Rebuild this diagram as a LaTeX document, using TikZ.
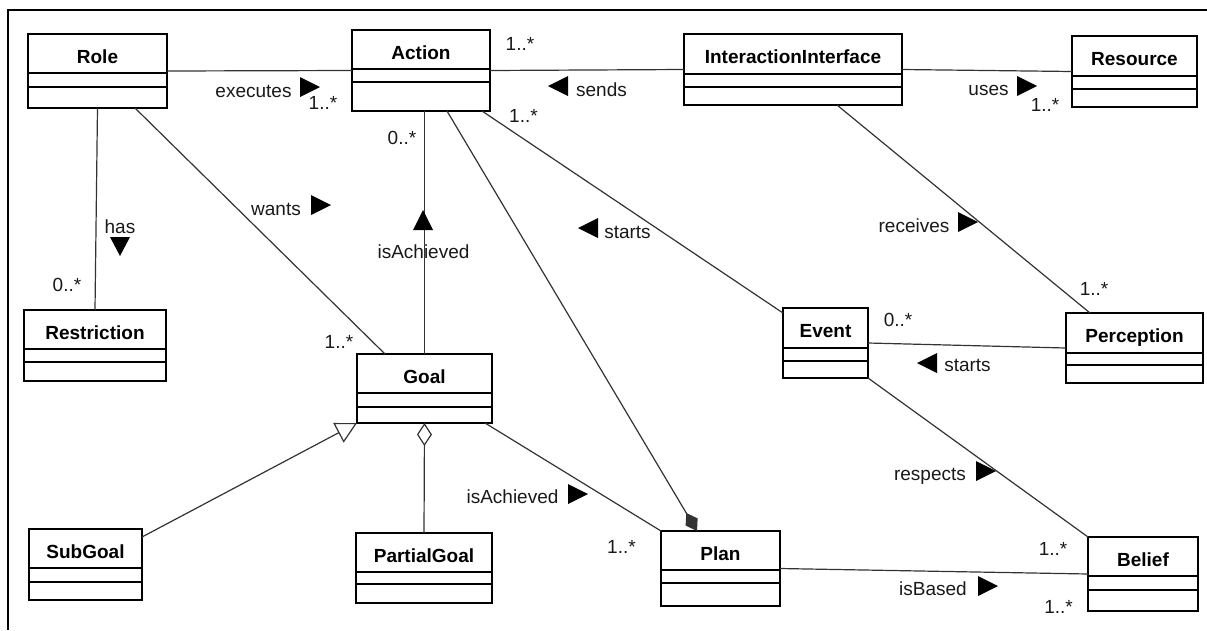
\documentclass[tikz,border=0pt]{standalone}
\usepackage{fontspec}
\setmainfont{Liberation Sans}
\usetikzlibrary{arrows.meta}
\tikzset{
 clsbox/.style={draw=black, line width=2.7pt, rectangle, inner sep=0pt, outer sep=0pt, fill=white},
 clsname/.style={font=\fontsize{19}{22}\selectfont\bfseries, anchor=base, inner sep=0pt},
 seprule/.style={line width=1.3pt},
 assoc/.style={line width=1.2pt, draw=black!80},
 lbl/.style={font=\fontsize{19}{22}\selectfont, anchor=base, inner sep=0pt, text=black!90},
 dirtri/.style={fill=black},
 frameline/.style={line width=2pt},
}
\newcommand{\umlclass}[8]{%
  \node[clsbox, minimum width=#5pt, minimum height=#6pt, anchor=north west] (#1) at (#3,#4) {};
  \node[clsname] (#1-name) at ([yshift=-29pt]#1.north) {#2};
  \draw[seprule] ([yshift=-#7pt]#1.north west) -- ([yshift=-#7pt]#1.north east);
  \draw[seprule] ([yshift=-#8pt]#1.north west) -- ([yshift=-#8pt]#1.north east);
}
\begin{document}
\begin{tikzpicture}[x=1pt,y=-1pt]
\useasboundingbox (0,0) rectangle (1207,630);
\fill[white] (0,0) rectangle (1207,630);
% frame
\draw[frameline] (8,630) -- (8,10) -- (1207,10);

% classes: name, text, x, y, w, h, sep1, sep2
\umlclass{Role}{Role}{28}{34}{139}{74}{39}{53}
\umlclass{Action}{Action}{352}{30}{138}{81}{39}{52}
\umlclass{II}{InteractionInterface}{684}{34}{218}{71}{40}{53}
\umlclass{Resource}{Resource}{1072}{36}{125}{71}{40}{53}
\umlclass{Restriction}{Restriction}{24}{310}{142}{71}{39}{52}
\umlclass{Goal}{Goal}{357}{354}{135}{69}{39}{53}
\umlclass{Event}{Event}{783}{308}{85}{70}{40}{53}
\umlclass{Perception}{Perception}{1066}{313}{137}{70}{40}{52}
\umlclass{SubGoal}{SubGoal}{29}{529}{113}{71}{39}{53}
\umlclass{PartialGoal}{PartialGoal}{356}{533}{136}{70}{39}{51}
\umlclass{Plan}{Plan}{661}{531}{119}{75}{39}{52}
\umlclass{Belief}{Belief}{1088}{537}{110}{74}{39}{53}

% connectors
\draw[assoc] (Role.east) -- (Action.west);
\draw[assoc] (Action.east) -- (II.west);
\draw[assoc] (II.east) -- (Resource.west);
\draw[assoc] (Role.south) -- (Restriction.north);
\draw[assoc] ([xshift=37.5pt]Role.south) -- ([xshift=-39.5pt]Goal.north);
\draw[assoc] (Goal.north) -- (Goal.north |- Action.south);
\draw[assoc, -{Diamond[length=21pt,width=14pt]}] ([xshift=26pt]Action.south) -- ([xshift=-23.5pt]Plan.north);
\draw[assoc] ([xshift=-8pt]Action.south east) -- ([yshift=-5pt]Event.north west);
\draw[assoc] ([xshift=44pt]II.south) -- ([xshift=-44.5pt]Perception.north);
\draw[assoc] (Event.east) -- (Perception.west);
\draw[assoc] (Event.south east) -- (Belief.north west);
\draw[assoc] (Plan.east) -- (Belief.west);
\draw[assoc] ([xshift=-7pt]Goal.south east) -- (Plan.north west);
\draw[assoc, -{Triangle[open,length=21pt,width=22pt,fill=white]}] ([yshift=-8pt]SubGoal.north east) -- (Goal.south west);
\draw[assoc, -{Diamond[open,length=23pt,width=15pt,fill=white]}] (PartialGoal.north) -- (Goal.south);

% labels
\node[lbl] (l-exec) at (253.5,97) {executes};
\fill[dirtri] (300,77) -- (320,87) -- (300,97) -- cycle;
\node[lbl] (m-exec) at (323,109) {1..*};

\node[lbl] (m-send) at (520,50) {1..*};
\fill[dirtri] (568,76) -- (548,86) -- (568,96) -- cycle;
\node[lbl] (l-send) at (601.5,96) {sends};

\node[lbl] (l-uses) at (988.5,95) {uses};
\fill[dirtri] (1017,76) -- (1037,86) -- (1017,96) -- cycle;
\node[lbl] (m-uses) at (1045,111) {1..*};

\node[lbl] (l-has) at (120,233) {has};
\fill[dirtri] (110,237) -- (130,237) -- (120,256) -- cycle;
\node[lbl] (m-has) at (67,291) {0..*};

\node[lbl] (l-wants) at (276,215) {wants};
\fill[dirtri] (311,195) -- (331,205) -- (311,215) -- cycle;
\node[lbl] (m-wants) at (339,348) {1..*};

\fill[dirtri] (413,230) -- (433,230) -- (423,210) -- cycle;
\node[lbl] (l-isach1) at (423.5,258) {isAchieved};
\node[lbl] (m-isach1) at (402,144) {0..*};

\node[lbl] (m-start1) at (523.5,122) {1..*};
\fill[dirtri] (598,218) -- (578,228) -- (598,238) -- cycle;
\node[lbl] (l-start1) at (627.5,238) {starts};

\node[lbl] (l-recv) at (914,232) {receives};
\fill[dirtri] (958,212) -- (978,222) -- (958,232) -- cycle;
\node[lbl] (m-recv) at (1094,295) {1..*};

\node[lbl] (m-start2) at (898,326) {0..*};
\fill[dirtri] (937,353) -- (917,363) -- (937,373) -- cycle;
\node[lbl] (l-start2) at (967.5,371) {starts};

\node[lbl] (l-resp) at (930,480) {respects};
\fill[dirtri] (976,461) -- (996,471) -- (976,481) -- cycle;
\node[lbl] (m-resp) at (1053,555) {1..*};

\node[lbl] (l-based) at (933,595) {isBased};
\fill[dirtri] (978,576) -- (998,586) -- (978,596) -- cycle;
\node[lbl] (m-based) at (1058.5,613) {1..*};

\node[lbl] (l-isach2) at (512.5,503) {isAchieved};
\fill[dirtri] (568,484) -- (588,494) -- (568,504) -- cycle;
\node[lbl] (m-isach2) at (621.5,553) {1..*};
\end{tikzpicture}
\end{document}
